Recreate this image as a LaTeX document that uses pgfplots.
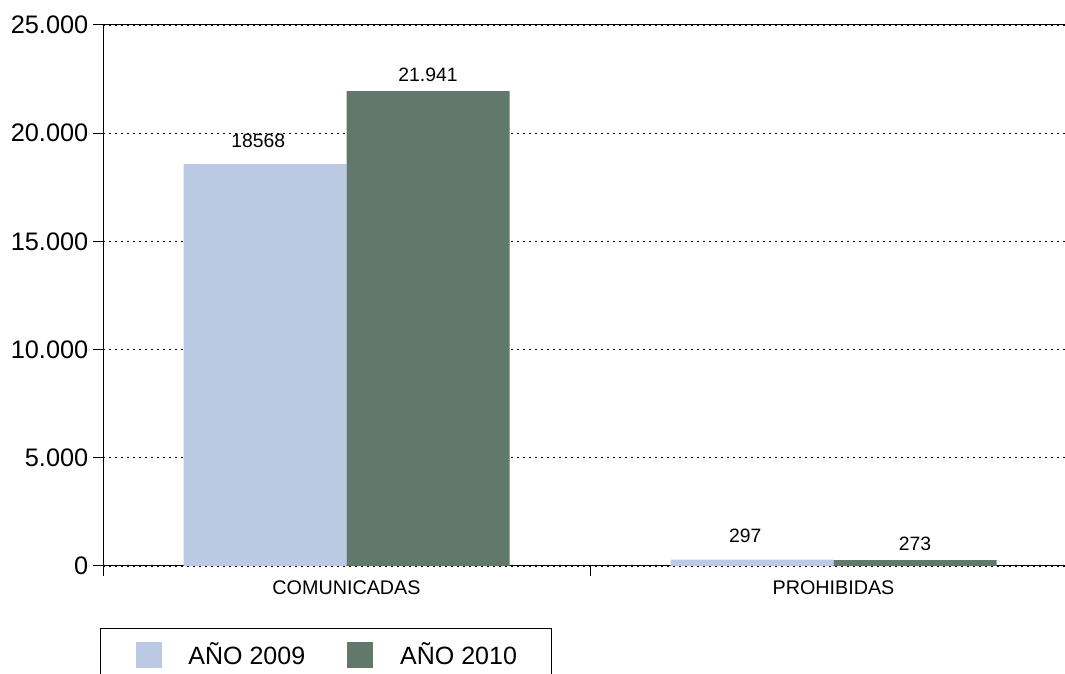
\documentclass[border=0pt]{standalone}
\usepackage{fontspec}
\setmainfont{Liberation Sans}
\usepackage{pgfplots}
\pgfplotsset{compat=1.18}
\definecolor{c2009}{RGB}{187,201,227}
\definecolor{c2010}{RGB}{97,120,106}

\begin{document}
\begin{tikzpicture}
\begin{axis}[
  at={(77.25pt,81pt)}, anchor=south west,
  scale only axis, width=730.5pt, height=405.75pt,
  xmin=-0.5, xmax=1.5, ymin=0, ymax=25000,
  ybar=0pt, bar width=122.25pt,
  xtick={0,1}, xticklabels={COMUNICADAS,PROHIBIDAS},
  minor xtick={-0.5,0.5,1.5},
  ytick={0,5000,...,25000},
  tick align=outside, xtick pos=bottom, ytick pos=left,
  major tick length=7.5pt, minor tick length=7.5pt,
  major x tick style={draw=none},
  tick style={black, line width=0.75pt},
  axis line style={black, line width=0.75pt},
  ymajorgrids,
  major grid style={black, line width=0.6pt, dash pattern=on 1.5pt off 3pt},
  scaled y ticks=false,
  /pgf/number format/.cd, 1000 sep={.}, assume math mode=true, /pgfplots/.cd,
  yticklabel style={font=\fontsize{19}{21}\selectfont, text=black},
  xticklabel style={font=\fontsize{14.8}{16}\selectfont, text=black},
  nodes near coords, point meta=explicit symbolic,
  nodes near coords style={font=\fontsize{14.5}{16}\selectfont, inner sep=0pt, anchor=south, text=black},
  legend columns=2,
  legend image code/.code={\fill[#1] (0pt,-9.75pt) rectangle (19.5pt,9.75pt);},
  legend style={at={(0,0)}, anchor=north west, xshift=-2.25pt, yshift=-46.5pt,
    draw=black, line width=0.75pt, inner xsep=26.25pt, inner ysep=10pt,
    font=\fontsize{18.75}{20}\selectfont,
    nodes={inner sep=0pt},
    /tikz/every odd column/.append style={column sep=20.25pt},
    /tikz/every even column/.append style={column sep=31.5pt}},
]
\addplot[fill=c2009, draw=none, every node near coord/.append style={yshift=12.4pt, xshift=-5pt}]
  coordinates {(0,18568) [18568] (1,297) [297]};
\addplot[fill=c2010, draw=none, every node near coord/.append style={yshift=7.1pt}]
  coordinates {(0,21941) [21.941] (1,273) [273]};
\legend{AÑO 2009, AÑO 2010}
\end{axis}
\pgfresetboundingbox
\path[use as bounding box] (0,0) rectangle (798.75pt,505.5pt);
\end{tikzpicture}
\end{document}
